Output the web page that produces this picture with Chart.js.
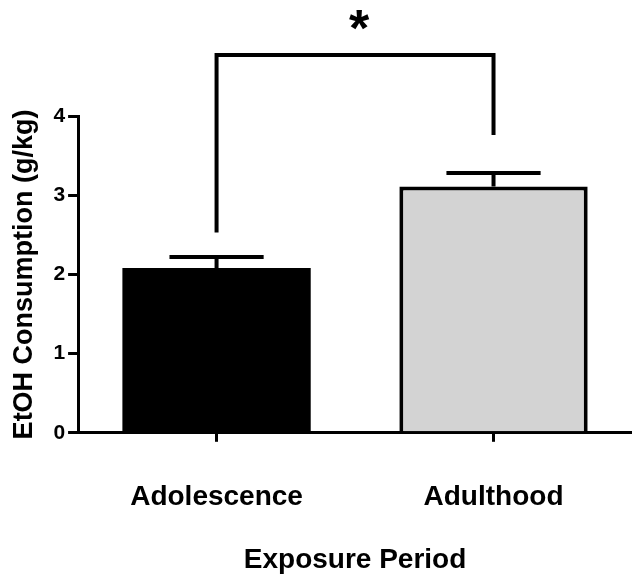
<!DOCTYPE html>
<html>
<head>
<meta charset="utf-8">
<script src="https://cdn.jsdelivr.net/npm/chart.js@4"></script>
<style>
  body { margin: 0; background: #fff; }
  canvas { display: block; }
</style>
</head>
<body>
<canvas id="bieuDo" width="632" height="578"></canvas>
<script>
// du lieu doc tu hinh
const nhom = ["Adolescence", "Adulthood"];
const giaTri = [2.08, 3.11];
const saiSo = [0.14, 0.17];
const mauCot = ["#000000", "#d3d3d3"];
const yTicks = [0, 1, 2, 3, 4];

// dau sao y nghia: [cot trai, cot phai], [muc ngang, chan trai, chan phai]
const ngoacNhom = [0, 1];
const ngoacMuc = [4.77, 2.53, 3.76];
const kyHieu = "*";

const font = "Arial, 'Liberation Sans', Helvetica, sans-serif";

// ve thanh sai so
const errorBarPlugin = {
    id: "errorBars",
    afterDatasetsDraw(chart) {
        const ctx = chart.ctx;
        const meta = chart.getDatasetMeta(0);
        const y = chart.scales.y;
        ctx.save();
        ctx.strokeStyle = "#000";
        ctx.lineWidth = 4;
        meta.data.forEach((bar, i) => {
            const yTop = y.getPixelForValue(giaTri[i] + saiSo[i]);
            const half = bar.width / 4;
            ctx.beginPath();
            ctx.moveTo(bar.x, bar.y);
            ctx.lineTo(bar.x, yTop);
            ctx.moveTo(bar.x - half, yTop);
            ctx.lineTo(bar.x + half, yTop);
            ctx.stroke();
        });
        ctx.restore();
    },
};

// ve ngoac so sanh va dau *
const bracketPlugin = {
    id: "bracket",
    afterDraw(chart) {
        const ctx = chart.ctx;
        const meta = chart.getDatasetMeta(0);
        const y = chart.scales.y;
        const x1 = meta.data[ngoacNhom[0]].x;
        const x2 = meta.data[ngoacNhom[1]].x;
        const yNgang = y.getPixelForValue(ngoacMuc[0]);
        ctx.save();
        ctx.strokeStyle = "#000";
        ctx.lineWidth = 4;
        ctx.beginPath();
        ctx.moveTo(x1, y.getPixelForValue(ngoacMuc[1]));
        ctx.lineTo(x1, yNgang);
        ctx.lineTo(x2, yNgang);
        ctx.lineTo(x2, y.getPixelForValue(ngoacMuc[2]));
        ctx.stroke();

        ctx.fillStyle = "#000";
        ctx.font = "bold 52px " + font;
        ctx.textAlign = "center";
        ctx.textBaseline = "alphabetic";
        const m = ctx.measureText(kyHieu);
        const tam = yNgang - 35;
        const baseline = tam + (m.actualBoundingBoxAscent - m.actualBoundingBoxDescent) / 2;
        ctx.fillText(kyHieu, (x1 + x2) / 2 + 4, baseline);
        ctx.restore();
    },
};

new Chart(document.getElementById("bieuDo"), {
    type: "bar",
    data: {
        labels: nhom,
        datasets: [{
            data: giaTri,
            backgroundColor: mauCot,
            borderColor: "#000",
            borderWidth: [0, 4],
            borderSkipped: "bottom",
            categoryPercentage: 1,
            barPercentage: 0.68,
        }],
    },
    options: {
        responsive: false,
        animation: false,
        layout: { padding: { top: 116, left: 8, right: 0, bottom: 11 } },
        plugins: {
            legend: { display: false },
            tooltip: { enabled: false },
        },
        scales: {
            x: {
                grid: {
                    display: true,
                    drawOnChartArea: false,
                    drawTicks: true,
                    offset: false,
                    tickLength: 9,
                    lineWidth: 3,
                    color: "#000",
                },
                border: { color: "#000", width: 3 },
                ticks: {
                    color: "#000",
                    font: { family: font, size: 28, weight: "bold", lineHeight: 0.9 },
                    padding: 43,
                },
                title: {
                    display: true,
                    text: "Exposure Period",
                    color: "#000",
                    font: { family: font, size: 28, weight: "bold", lineHeight: 0.5 },
                    padding: { top: 0, bottom: 0 },
                },
            },
            y: {
                min: 0,
                max: 4,
                afterBuildTicks: (axis) => {
                    axis.ticks = yTicks.map((v) => ({ value: v }));
                },
                grid: {
                    display: true,
                    drawOnChartArea: false,
                    drawTicks: true,
                    tickLength: 10,
                    lineWidth: 3,
                    color: "#000",
                },
                border: { color: "#000", width: 3 },
                ticks: {
                    color: "#000",
                    font: { family: font, size: 21, weight: "bold" },
                    padding: 3,
                },
                title: {
                    display: true,
                    text: "EtOH Consumption (g/kg)",
                    color: "#000",
                    font: { family: font, size: 27, weight: "bold" },
                    padding: { top: 0, bottom: 10 },
                },
            },
        },
    },
    plugins: [errorBarPlugin, bracketPlugin],
});
</script>
</body>
</html>
